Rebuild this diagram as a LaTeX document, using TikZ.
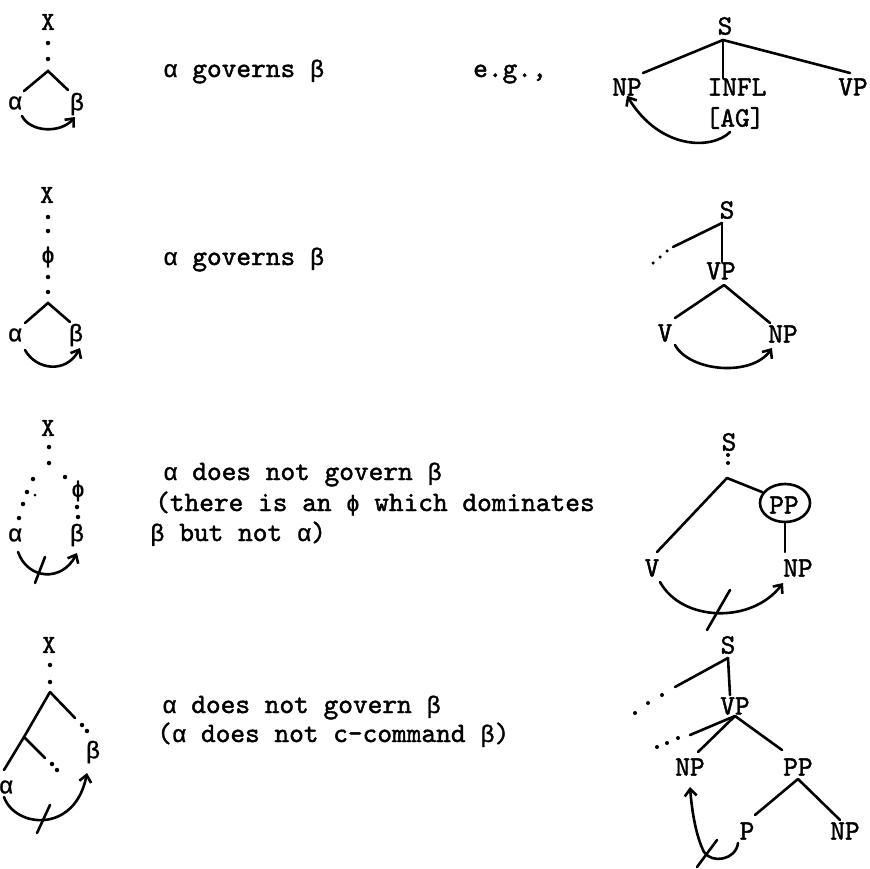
\documentclass[tikz,border=0pt]{standalone}
\usepackage{fontspec}
\newfontfamily\tyb{lmmono10-regular}[Extension=.otf,FakeBold=1.6]
\newfontfamily\grk{Liberation Mono}[FakeBold=1]
\newfontfamily\djv{DejaVu Sans Mono}[FakeBold=0.6]
\newcommand{\ga}{{\grk\fontsize{24}{28}\selectfont α}}
\newcommand{\gb}{{\grk\fontsize{24}{28}\selectfont β}}
\newcommand{\gp}{{\djv\fontsize{22}{28}\selectfont ϕ}}
\usetikzlibrary{arrows.meta}
\begin{document}
\begin{tikzpicture}[x=1pt,y=-1pt,
  br/.style={line width=2.6pt,line cap=round},
  arr/.style={line width=2.6pt,line cap=round,-{Straight Barb[length=7pt,width=12pt,line width=2.6pt]}},
  lbl/.style={font=\tyb\fontsize{28}{32}\selectfont,inner sep=0pt},
  gk/.style={font=\grk\fontsize{24}{28}\selectfont,inner sep=0pt},
  txt/.style={font=\tyb\fontsize{28}{32}\selectfont,inner sep=0pt,anchor=base west},
  dt/.style={circle,fill,inner sep=0pt,minimum size=4.5pt}]
\useasboundingbox (0,0) rectangle (870,868);

% ---------- row 1 left
\node[lbl,font=\tyb\fontsize{26}{30}\selectfont] (X1) at (48,22) {X};
\node[dt] (d1a) at (48,43) {};
\node[dt] (d1b) at (48,59) {};
\coordinate (a1) at (48,71);
\coordinate (l1) at (24,91);
\coordinate (r1) at (68,90);
\node[gk] (al1) at (15,103) {α};
\node[gk] (be1) at (77,104) {β};
\draw[br] (l1) -- (a1) -- (r1);
\coordinate (s1) at (22,116);
\coordinate (e1) at (75,117);
\draw[arr] (s1) .. controls (30,132) and (60,134) .. (e1);

\node[txt] (t1) at (163,77) {\ga{} governs \gb};
\node[txt] (eg) at (473,77) {e.g.,};

% ---------- row 1 right
\node[lbl] (S1) at (725,26) {S};
\node[lbl] (NP1) at (627,87) {NP};
\node[lbl] (INFL) at (737,87) {INFL};
\node[lbl] (VP1) at (853,87) {VP};
\node[lbl] (AG) at (735,118) {[AG]};
\coordinate (sa1) at (723,40);
\draw[br] (sa1) -- (643,73);
\draw[br] (sa1) -- (INFL.north -| sa1);
\draw[br] (sa1) -- (850,73);
\draw[arr] (AG.south) ++(-5,3) .. controls (712,150) and (660,150) .. (NP1.south);

% ---------- row 2 left
\node[lbl,font=\tyb\fontsize{26}{30}\selectfont] (X2) at (47,195) {X};
\node[dt] (d2a) at (48,217) {};
\node[dt] (d2b) at (48,231) {};
\node[gk,font=\djv\fontsize{22}{26}\selectfont] (ph2) at (48,257) {ϕ};
\node[dt] (d2c) at (48,277) {};
\node[dt] (d2d) at (48,292) {};
\coordinate (a2) at (48,303);
\draw[br] (25,323) -- (a2) -- (70,322);
\node[gk] (al2) at (15,335) {α};
\node[gk] (be2) at (76,335) {β};
\draw[arr] (25,350) .. controls (36,370) and (66,374) .. (80,348);

\node[txt] (t2) at (163,265) {\ga{} governs \gb};

% ---------- row 2 right
\node[lbl] (S2) at (727,210) {S};
\coordinate (sa2) at (722,223);
\draw[br] (sa2) -- (673,247);
\node[dt,minimum size=3.5pt] at (667,251) {};
\node[dt,minimum size=3.5pt] at (660,257) {};
\node[dt,minimum size=3.5pt] at (653,263) {};
\node[lbl] (VP2) at (721,271) {VP};
\draw[br] (sa2) -- (VP2.north -| sa2);
\coordinate (va2) at (724,285);
\node[lbl] (V2) at (665,333) {V};
\node[lbl] (NP2) at (783,334) {NP};
\draw[br] (va2) -- (675,318);
\draw[br] (va2) -- (770,323);
\draw[arr] (675,345) .. controls (690,372) and (752,377) .. (772,348);

% ---------- row 3 left
\node[lbl,font=\tyb\fontsize{26}{30}\selectfont] (X3) at (48,428) {X};
\node[dt] at (49,447) {};
\node[dt] at (49,463) {};
\node[dt] at (33,479) {};
\node[dt] at (27,492) {};
\node[dt,minimum size=3pt] at (35,495) {};
\node[dt] at (23,504) {};
\node[dt] at (19,518) {};
\node[dt] at (65,477) {};
\node[gk,font=\djv\fontsize{22}{26}\selectfont] (ph3) at (78,491) {ϕ};
\node[dt] at (77,507) {};
\node[dt] at (78,517) {};
\node[gk] (al3) at (15,535) {α};
\node[gk] (be3) at (77,535) {β};
\draw[arr] (18,552) .. controls (28,580) and (62,582) .. (77,553);
\draw[br] (35,583) -- (45,557);

\node[txt] at (163,480) {\ga{} does not govern \gb};
\node[txt] at (155,511) {(there is an \gp{} which dominates};
\node[txt] at (150,541) {\gb{} but not \ga)};

% ---------- row 3 right
\node[lbl] (S3) at (729,442) {S};
\node[dt,minimum size=4pt] at (728,455) {};
\node[dt,minimum size=4pt] at (728,463) {};
\coordinate (sa3) at (727,478);
\node[lbl] (V3) at (652,568) {V};
\node[lbl] (PP3) at (784,505) {PP};
\draw[br] (785,503) ellipse [x radius=25, y radius=19];
\node[lbl] (NP3) at (798,568) {NP};
\draw[br] (sa3) -- (657,552);
\draw[br] (sa3) -- (762,492);
\draw[br] (785,522) -- (785,552);
\draw[arr] (660,582) .. controls (682,622) and (752,624) .. (783,583);
\draw[br] (707,630) -- (730,590);

% ---------- row 4 left
\node[lbl,font=\tyb\fontsize{26}{30}\selectfont] (X4) at (49,645) {X};
\node[dt] at (50,665) {};
\node[dt] at (50,682) {};
\coordinate (a4) at (50,692);
\coordinate (m4) at (24,737);
\draw[br] (a4) -- (m4) -- (4,770);
\draw[br] (m4) -- (45,758);
\node[dt] at (52,764) {};
\node[dt] at (57,770) {};
\draw[br] (a4) -- (75,718);
\node[dt] at (82,725) {};
\node[dt] at (87,731) {};
\node[gk] (be4) at (93,752) {β};
\node[gk] (al4) at (6,787) {α};
\draw[arr] (4,797) .. controls (15,828) and (75,834) .. (87,773);
\draw[br] (37,833) -- (50,805);

\node[txt] at (162,713) {\ga{} does not govern \gb};
\node[txt] at (157,742) {(\ga{} does not c-command \gb)};

% ---------- row 4 right
\node[lbl] (S4) at (728,645) {S};
\coordinate (sa4) at (728,658);
\draw[br] (sa4) -- (675,687);
\node[dt,minimum size=4pt] at (662,695) {};
\node[dt,minimum size=4pt] at (648,703) {};
\node[dt,minimum size=4pt] at (635,713) {};
\node[lbl] (VP4) at (735,706) {VP};
\draw[br] (sa4) -- (730,695);
\coordinate (va4) at (735,716);
\draw[br] (va4) -- (690,735);
\node[dt,minimum size=4pt] at (678,738) {};
\node[dt,minimum size=4pt] at (667,743) {};
\node[dt,minimum size=4pt] at (657,747) {};
\node[lbl] (NP4) at (690,767) {NP};
\node[lbl] (PP4) at (798,767) {PP};
\draw[br] (va4) -- (698,752);
\draw[br] (va4) -- (782,750);
\coordinate (pa4) at (798,779);
\node[lbl] (P4) at (747,831) {P};
\node[lbl] (NP4b) at (845,831) {NP};
\draw[br] (pa4) -- (755,815);
\draw[br] (pa4) -- (840,820);
\draw[arr] (738,843) .. controls (736,860) and (712,864) .. (704,852) .. controls (696,836) and (692,812) .. (690,787);
\draw[br] (697,867) -- (717,840);
\end{tikzpicture}
\end{document}
